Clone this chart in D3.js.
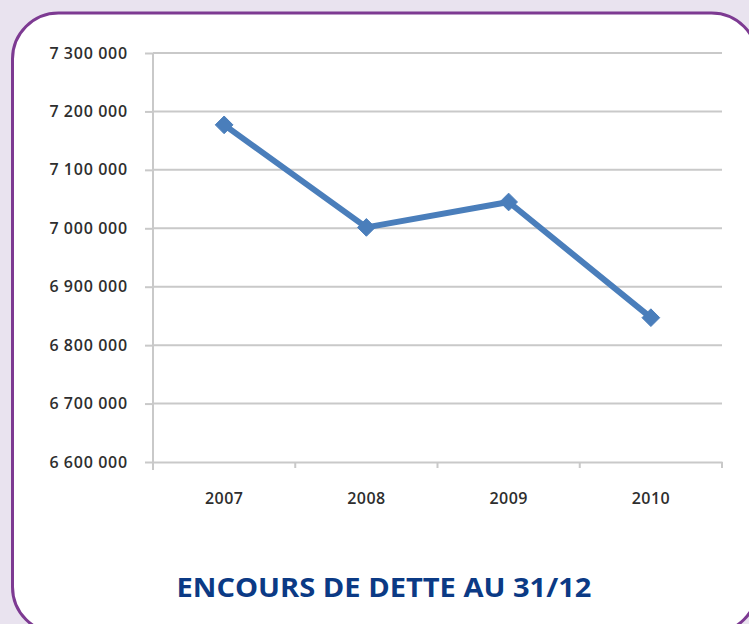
<!DOCTYPE html>
<html><head><meta charset="utf-8">
<script src="https://cdn.jsdelivr.net/npm/d3@7"></script>
<style>
html,body{margin:0;padding:0;background:#e9e3ef;}
svg{display:block;}
</style></head>
<body>
<script>
const years = ["2007", "2008", "2009", "2010"];
const debt = [7177000, 7001500, 7045000, 6847000];
const yTicks = [6600000, 6700000, 6800000, 6900000, 7000000, 7100000, 7200000, 7300000];
const title = "ENCOURS DE DETTE AU 31/12";

const W = 749, H = 624;
const svg = d3.select("body").append("svg").attr("width", W).attr("height", H);
svg.append("rect").attr("width", W).attr("height", H).attr("fill", "#e9e3ef");
svg.append("rect").attr("x", 12.5).attr("y", 13).attr("width", 745).attr("height", 620)
  .attr("rx", 46).attr("ry", 46).attr("fill", "#ffffff").attr("stroke", "#7d3a92").attr("stroke-width", 3);

const pLeft = 153, pRight = 722, pTop = 53, pBottom = 462;
const x = d3.scaleBand().domain(years).range([pLeft, pRight]);
const y = d3.scaleLinear().domain([6600000, 7300000]).range([pBottom, pTop]);

const fmt = v => d3.format(",")(v).replace(/,/g, " ");

// gridlines
svg.append("g").selectAll("line").data(yTicks.slice(1)).join("line")
  .attr("x1", pLeft).attr("x2", pRight).attr("y1", d => y(d)).attr("y2", d => y(d))
  .attr("stroke", "#c9c9c9").attr("stroke-width", 2);

// y axis
const yAxis = svg.append("g").attr("transform", `translate(${pLeft},0)`)
  .call(d3.axisLeft(y).tickValues(yTicks).tickFormat(fmt).tickSize(8).tickPadding(17));
yAxis.select(".domain").attr("stroke", "#c9c9c9").attr("stroke-width", 2).attr("d", `M0,${pTop}V${pBottom+8}`);
yAxis.selectAll(".tick line").attr("stroke", "#c9c9c9").attr("stroke-width", 2);
yAxis.selectAll("text").attr("fill", "#2e2e2e").style("font-family", "'Open Sans', sans-serif")
  .style("font-size", "16px").style("font-weight", "600").style("letter-spacing", "0.8px")
  .style("word-spacing", "-0.5px");

// x axis
const xAxis = svg.append("g").attr("transform", `translate(0,${pBottom})`)
  .call(d3.axisBottom(x).tickSize(0).tickPadding(31));
xAxis.select(".domain").attr("stroke", "#c9c9c9").attr("stroke-width", 2);
xAxis.selectAll("text").attr("fill", "#2e2e2e").style("font-family", "'Open Sans', sans-serif")
  .style("font-size", "16px").style("font-weight", "600").style("letter-spacing", "0.4px");
svg.append("g").selectAll("line").data(years).join("line")
  .attr("x1", d => x(d) + x.bandwidth()).attr("x2", d => x(d) + x.bandwidth())
  .attr("y1", pBottom).attr("y2", pBottom + 6).attr("stroke", "#c9c9c9").attr("stroke-width", 2);

// line
const pts = years.map((yr, i) => [x(yr) + x.bandwidth() / 2, y(debt[i])]);
svg.append("path").datum(pts).attr("d", d3.line())
  .attr("fill", "none").attr("stroke", "#4a7ebb").attr("stroke-width", 6).attr("stroke-linejoin", "round");
svg.append("g").selectAll("path").data(pts).join("path")
  .attr("transform", d => `translate(${d[0]},${d[1]})`)
  .attr("d", d3.symbol(d3.symbolDiamond2, 200))
  .attr("fill", "#4a7ebb").attr("stroke", "#4a7ebb").attr("stroke-width", 1).attr("stroke-linejoin", "round");

// title
svg.append("text").attr("x", 384).attr("y", 597).attr("text-anchor", "middle")
  .attr("fill", "#0b3a85").style("font-family", "'Open Sans', sans-serif").style("font-weight", "bold")
  .style("font-size", "27px").attr("textLength", 415).attr("lengthAdjust", "spacingAndGlyphs")
  .text(title);
</script>
</body></html>
